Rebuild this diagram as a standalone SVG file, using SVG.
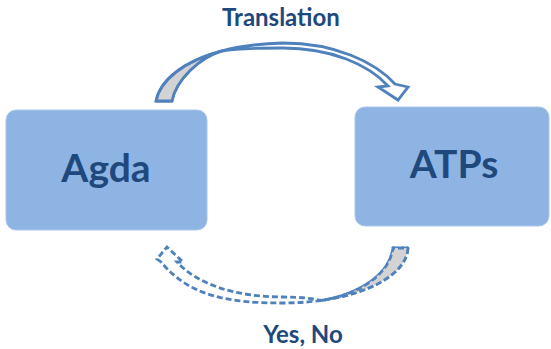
<svg xmlns="http://www.w3.org/2000/svg" width="551" height="349" viewBox="0 0 551 349">
  <style>
    .box { fill: #8EB4E3; stroke: #A9C6EC; stroke-width: 1; }
    .label { font-family: Lato, "Open Sans", "Liberation Sans", sans-serif; font-weight: bold; fill: #1F497D; text-anchor: middle; }
    .big { font-size: 39px; }
    .small { font-size: 24px; }
    .arrow { fill: #FFFFFF; stroke: #4F81BD; stroke-width: 2.8; stroke-linejoin: miter; }
    .back { fill: #D3D3D3; stroke: #4F81BD; stroke-width: 2.8; stroke-linejoin: round; }
    .dash { stroke-dasharray: 6 3; }
  </style>

  <g id="agda">
    <rect class="box" x="6" y="110" width="201" height="120" rx="10" ry="10"/>
    <text class="label big" x="106" y="182">Agda</text>
  </g>

  <g id="atps">
    <rect class="box" x="355" y="107" width="194" height="119" rx="10" ry="10"/>
    <text class="label big" x="454" y="178">ATPs</text>
  </g>

  <g id="connectors">
    <!-- Translation: curved arrow over the top, Agda to ATPs -->
    <g id="translation-arrow">
      <path class="arrow" d="M156,101 C162,72 205,45 283,43 C335,43 375,62 395,84 L408,87 L398,100 L378,87 L388,86 C368,64 330,48 283,48 C258,48 238,48 222,51 C200,57 176,80 172,101 Z"/>
      <path class="back" d="M156,101 C160.2,80.7 182.5,61.4 222.3,50.9 C200,57 176,80 172,101 Z"/>
    </g>
    <!-- Yes, No: dashed curved arrow underneath, ATPs back to Agda -->
    <g id="answer-arrow">
      <path class="arrow dash" d="M408,248 C406,280 350,303 283,303 C230,303 190,297 161,262 L157,259 L167,247 L183,262 L177,262 C197,284 235,297 283,297 C300,297 312,298.5 321.6,300.4 C345,297 388,282 393,248 Z"/>
      <path class="back dash" d="M408,248 C406.4,273.6 370.2,293.4 321.6,300.4 C345,297 388,282 393,248 Z"/>
    </g>
    <text class="label small" x="281" y="26">Translation</text>
    <text class="label small" x="303" y="343">Yes, No</text>
  </g>
</svg>
